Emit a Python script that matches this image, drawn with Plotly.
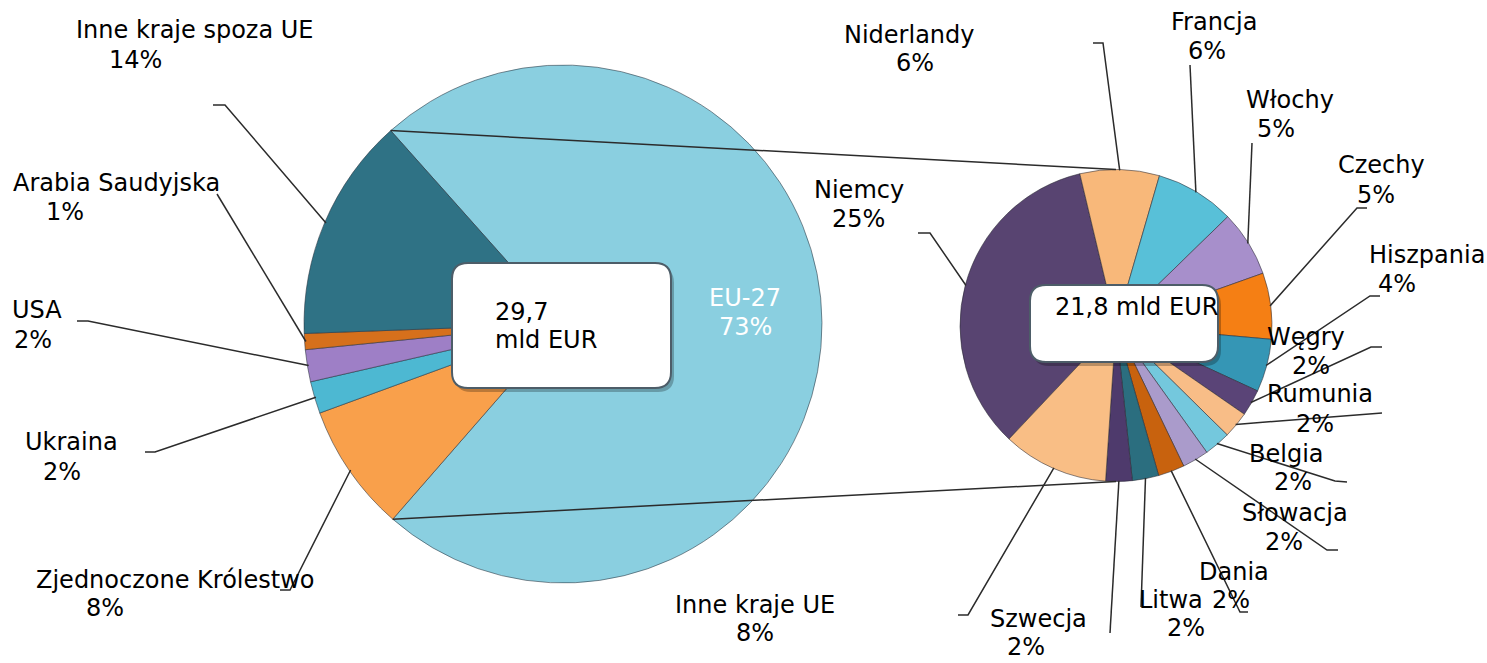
import math
import plotly.graph_objects as go

W, H = 1487, 663

# ---------------- data ----------------
outer_labels = ["EU-27", "Zjednoczone Królestwo", "Ukraina", "USA",
                "Arabia Saudyjska", "Inne kraje spoza UE"]
outer_values = [73, 8, 2, 2, 1, 14]
outer_colors = ["#8ACFE0", "#F9A04B", "#4DB8D2", "#9E7FC6", "#D6701C", "#2F7285"]

eu_labels = ["Niemcy", "Niderlandy", "Francja", "Włochy", "Czechy", "Hiszpania",
             "Węgry", "Rumunia", "Belgia", "Słowacja", "Dania", "Litwa",
             "Szwecja", "Inne kraje UE"]
eu_values = [25, 6, 6, 5, 5, 4, 2, 2, 2, 2, 2, 2, 2, 8]
eu_colors = ["#584471", "#F8B87A", "#58C0D8", "#A78FCB", "#F57F14", "#3596B5",
             "#5A4477", "#F8BD87", "#74C8DD", "#AA9BCB", "#C8620E", "#2B6E7F",
             "#4E3A6C", "#F9BE85"]

total_outer = "29,7"
total_eu = "21,8"
unit = "mld EUR"

# ---------------- layout geometry (pixels) ----------------
L_CX, L_CY, L_R, L_ROT = 563, 324, 259, -41.7
R_CX, R_CY, R_R, R_ROT = 1116, 325.5, 156, -136.7

FONT = "DejaVu Sans"
FS = 24
LINE = "#2b2b2b"

# label placement: name centre, pct centre, elbow, tail (pixel coords)
outer_pos = {
    "EU-27": dict(name=(745, 298), pct=(745, 327), elbow=None, tail=None, color="white"),
    "Zjednoczone Królestwo": dict(name=(175, 580), pct=(105, 608), elbow=(290, 590), tail=(280, 590)),
    "Ukraina": dict(name=(71, 442), pct=(62, 472), elbow=(155, 452), tail=(145, 452)),
    "USA": dict(name=(37, 310), pct=(33, 340), elbow=(88, 321), tail=(77, 321)),
    "Arabia Saudyjska": dict(name=(116, 183), pct=(65, 212), elbow=(217, 194), tail=(217, 194)),
    "Inne kraje spoza UE": dict(name=(195, 30), pct=(135, 60), elbow=(225, 105), tail=(213, 105)),
}
eu_pos = {
    "Niemcy": dict(name=(859, 190), pct=(858, 219), elbow=(930, 233), tail=(918, 233)),
    "Niderlandy": dict(name=(909, 35), pct=(915, 63), elbow=(1103, 43), tail=(1093, 43)),
    "Francja": dict(name=(1214, 22), pct=(1207, 51), elbow=(1190, 65), tail=(1190, 65)),
    "Włochy": dict(name=(1290, 100), pct=(1276, 129), elbow=(1252, 143), tail=(1252, 143)),
    "Czechy": dict(name=(1381, 165), pct=(1376, 195), elbow=(1357, 208), tail=(1367, 208)),
    "Hiszpania": dict(name=(1427, 255), pct=(1397, 284), elbow=(1370, 296), tail=(1380, 296)),
    "Węgry": dict(name=(1306, 337), pct=(1311, 366), elbow=(1371, 347), tail=(1382, 347)),
    "Rumunia": dict(name=(1320, 394), pct=(1315, 424), elbow=(1382, 413), tail=(1382, 413)),
    "Belgia": dict(name=(1286, 454), pct=(1293, 482), elbow=(1335, 481), tail=(1347, 482)),
    "Słowacja": dict(name=(1295, 513), pct=(1284, 542), elbow=(1327, 550), tail=(1338, 550)),
    "Dania": dict(name=(1234, 572), pct=(1231, 600), elbow=(1240, 612), tail=(1248, 612)),
    "Litwa": dict(name=(1171, 600), pct=(1186, 628), elbow=(1141, 607), tail=(1141, 607)),
    "Szwecja": dict(name=(1038, 619), pct=(1026, 647), elbow=(1110, 633), tail=(1110, 633)),
    "Inne kraje UE": dict(name=(755, 605), pct=(755, 633), elbow=(968, 615), tail=(958, 615)),
}


def domain(cx, cy, r):
    return dict(x=[(cx - r) / W, (cx + r) / W], y=[1 - (cy + r) / H, 1 - (cy - r) / H])


def point(cx, cy, r, ang):
    a = math.radians(ang)
    return cx + r * math.sin(a), cy - r * math.cos(a)


def mid_angles(values, rot):
    tot = sum(values)
    out, cur = [], rot
    for v in values:
        span = v / tot * 360
        out.append(cur + span / 2)
        cur += span
    return out


fig = go.Figure()
# invisible trace to create pixel-based cartesian axes for shapes/annotations
fig.add_trace(go.Scatter(x=[], y=[], showlegend=False, hoverinfo="skip"))

fig.add_trace(go.Pie(
    labels=outer_labels, values=outer_values, sort=False, direction="clockwise",
    rotation=L_ROT, domain=domain(L_CX, L_CY, L_R), textinfo="none",
    marker=dict(colors=outer_colors, line=dict(color="rgba(40,50,60,0.55)", width=1)),
    showlegend=False, hoverinfo="label+percent",
))
fig.add_trace(go.Pie(
    labels=eu_labels, values=eu_values, sort=False, direction="clockwise",
    rotation=R_ROT, domain=domain(R_CX, R_CY, R_R), textinfo="none",
    marker=dict(colors=eu_colors, line=dict(color="rgba(40,40,50,0.55)", width=1)),
    showlegend=False, hoverinfo="label+value",
))

shapes = []
annotations = []


def add_label(name, pct, pos):
    color = pos.get("color", "black")
    for txt, (x, y) in ((name, pos["name"]), (pct, pos["pct"])):
        annotations.append(dict(x=x, y=y, xref="x", yref="y", text=txt, showarrow=False,
                                xanchor="center", yanchor="middle", borderpad=0,
                                font=dict(family=FONT, size=FS, color=color)))


def add_leader(cx, cy, r, ang, pos):
    if pos.get("elbow") is None:
        return
    px, py = point(cx, cy, r * 0.995, ang)
    ex, ey = pos["elbow"]
    tx, ty = pos["tail"]
    shapes.append(dict(type="path", xref="x", yref="y",
                       path=f"M {px:.1f},{py:.1f} L {ex},{ey} L {tx},{ty}",
                       line=dict(color=LINE, width=1.5)))


for lab, val, ang in zip(outer_labels, outer_values, mid_angles(outer_values, L_ROT)):
    pos = outer_pos[lab]
    add_label(lab, f"{val}%", pos)
    add_leader(L_CX, L_CY, L_R, ang, pos)

for lab, val, ang in zip(eu_labels, eu_values, mid_angles(eu_values, R_ROT)):
    pos = eu_pos[lab]
    add_label(lab, f"{val}%", pos)
    add_leader(R_CX, R_CY, R_R, ang, pos)

# connector lines: from EU-27 slice boundaries to top/bottom of the secondary pie
eu_start = L_ROT
eu_end = L_ROT + outer_values[0] / sum(outer_values) * 360
x1, y1 = point(L_CX, L_CY, L_R, eu_start)
x2, y2 = point(L_CX, L_CY, L_R, eu_end)
tx, ty = point(R_CX, R_CY, R_R, 0)
bx, by = point(R_CX, R_CY, R_R, 180)
shapes.append(dict(type="line", xref="x", yref="y", x0=x1, y0=y1, x1=tx, y1=ty,
                   line=dict(color=LINE, width=1.5)))
shapes.append(dict(type="line", xref="x", yref="y", x0=x2, y0=y2, x1=bx, y1=by,
                   line=dict(color=LINE, width=1.5)))


def rrect(x0, y0, x1, y1, r):
    return (f"M {x0 + r},{y0} L {x1 - r},{y0} Q {x1},{y0} {x1},{y0 + r} "
            f"L {x1},{y1 - r} Q {x1},{y1} {x1 - r},{y1} L {x0 + r},{y1} "
            f"Q {x0},{y1} {x0},{y1 - r} L {x0},{y0 + r} Q {x0},{y0} {x0 + r},{y0} Z")


for (bx0, by0, bx1, by1) in ((452, 263, 671, 388), (1030, 285, 1218, 362)):
    shapes.append(dict(type="path", xref="x", yref="y", path=rrect(bx0 + 3, by0 + 4, bx1 + 3, by1 + 4, 16),
                       fillcolor="rgba(0,0,0,0.25)", line=dict(width=0)))
    shapes.append(dict(type="path", xref="x", yref="y", path=rrect(bx0, by0, bx1, by1, 16),
                       fillcolor="white", line=dict(color="#4d5d68", width=2)))

annotations.append(dict(x=493, y=312, xref="x", yref="y", text=total_outer, showarrow=False,
                        xanchor="left", yanchor="middle", font=dict(family=FONT, size=FS, color="black")))
annotations.append(dict(x=493, y=340, xref="x", yref="y", text=unit, showarrow=False,
                        xanchor="left", yanchor="middle", font=dict(family=FONT, size=FS, color="black")))
annotations.append(dict(x=1053, y=307, xref="x", yref="y", text=f"{total_eu} {unit}", showarrow=False,
                        xanchor="left", yanchor="middle", font=dict(family=FONT, size=FS, color="black")))

fig.update_layout(
    width=W, height=H, margin=dict(l=0, r=0, t=0, b=0),
    paper_bgcolor="white", plot_bgcolor="rgba(0,0,0,0)",
    xaxis=dict(range=[0, W], visible=False, fixedrange=True),
    yaxis=dict(range=[H, 0], visible=False, fixedrange=True),
    shapes=shapes, annotations=annotations, showlegend=False,
)

fig.write_html("out.html", config={"displayModeBar": False},
               post_script="document.body.style.margin='0';document.body.style.overflow='hidden';")
